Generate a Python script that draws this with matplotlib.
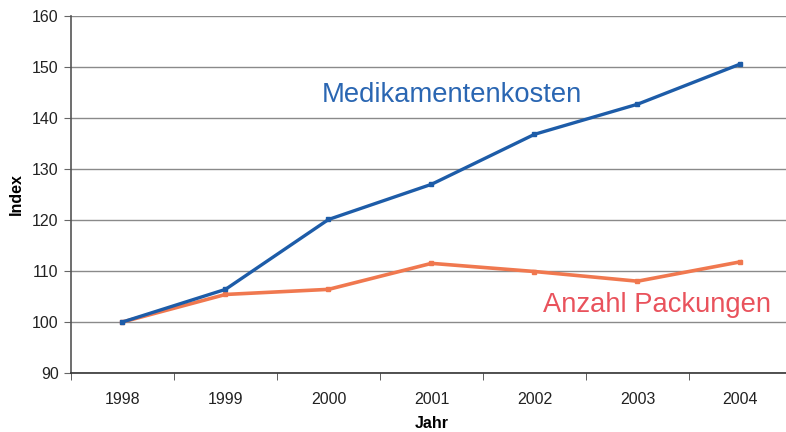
import matplotlib
matplotlib.use("Agg")
import matplotlib.pyplot as plt
import numpy as np

plt.rcParams["font.family"] = ["Liberation Sans", "DejaVu Sans"]

years = ["1998", "1999", "2000", "2001", "2002", "2003", "2004"]
medikamentenkosten = [100, 106.4, 120.1, 127.0, 136.8, 142.7, 150.6]
anzahl_packungen = [100, 105.4, 106.4, 111.5, 109.9, 108.0, 111.8]
yticks = [90, 100, 110, 120, 130, 140, 150, 160]

W, H = 786, 432
fig = plt.figure(figsize=(W/100, H/100), dpi=100)
fig.patch.set_facecolor("white")
left, right = 71, 792
top, bottom = 16, 373
ax = fig.add_axes([left/W, 1 - bottom/H, (right-left)/W, (bottom-top)/H])
ax.set_facecolor("none")

x = np.arange(len(years))
ax.plot(x, anzahl_packungen, color="#f0784f", lw=2.6, marker="s", ms=2.5, zorder=3)
ax.plot(x, medikamentenkosten, color="#1d5ca8", lw=2.4, marker="s", ms=2.5, zorder=4)

ax.set_xlim(-0.5, len(years) - 0.5)
ax.set_ylim(90, 160)
ax.set_yticks(yticks)
ax.set_yticklabels([str(v) for v in yticks], fontsize=11.5, color="#222222")
ax.yaxis.grid(True, color="#8a8a8a", lw=1.0)
ax.set_axisbelow(True)

ax.set_xticks(x)
ax.set_xticklabels(years, fontsize=11.5, color="#222222")
ax.set_xticks(np.arange(len(years) + 1) - 0.5, minor=True)
ax.tick_params(axis="x", which="major", length=0, pad=14)
ax.tick_params(axis="x", which="minor", length=5, color="#444444", direction="out")
ax.tick_params(axis="y", length=5, color="#666666", direction="out", pad=4)

for s in ["top", "right"]:
    ax.spines[s].set_visible(False)
ax.spines["left"].set_color("#555555")
ax.spines["bottom"].set_color("#333333")
ax.spines["left"].set_linewidth(1.2)
ax.spines["bottom"].set_linewidth(1.2)

ax.set_xlabel("Jahr", fontsize=11.5, fontweight="bold", labelpad=6)
ax.set_ylabel("Index", fontsize=11.5, fontweight="bold", labelpad=6)

ax.text(3.2, 144.6, "Medikamentenkosten", color="#2a66b2", fontsize=19.7, ha="center", va="center")
ax.text(5.19, 103.3, "Anzahl Packungen", color="#e9525c", fontsize=19.7, ha="center", va="center")

fig.savefig("out.png", dpi=100)
